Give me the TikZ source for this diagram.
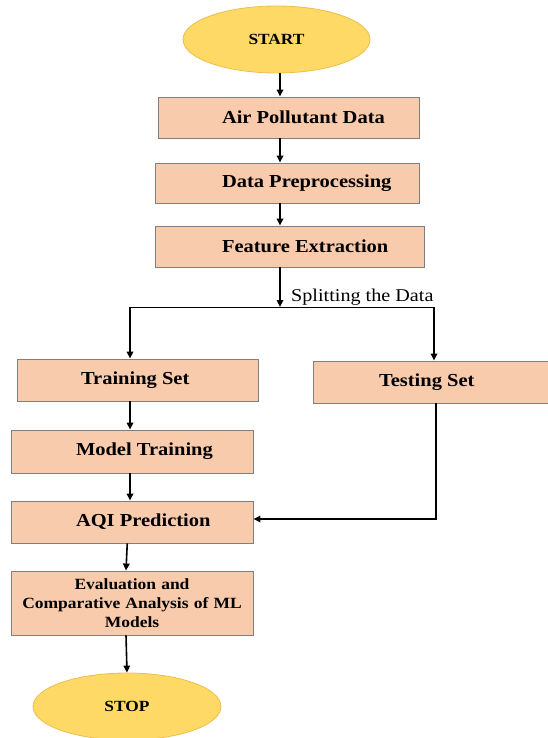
\documentclass[tikz,border=0pt]{standalone}
\usepackage{fontspec}
\setmainfont{Liberation Serif}[FakeStretch=1.12]
\usetikzlibrary{shapes.geometric,arrows.meta}
\definecolor{peach}{HTML}{F8CBAD}
\definecolor{boxline}{HTML}{7F7F7F}
\definecolor{gold}{HTML}{FFD966}
\definecolor{goldline}{HTML}{EDBE4E}
\newcommand\bt[3]{\makebox[#1pt][l]{\hspace{#2pt}#3}}
\begin{document}
\begin{tikzpicture}[x=1pt,y=-1pt,
  procbox/.style={draw=boxline,fill=peach,line width=0.9pt,inner xsep=0pt,inner ysep=0pt,
    font=\fontsize{18.3}{21}\selectfont\bfseries},
  term/.style={ellipse,draw=goldline,fill=gold,line width=0.8pt,inner sep=0pt,
    font=\fontsize{15.5}{18}\selectfont\bfseries},
  arr/.style={line width=1.6pt,-{Triangle[length=7pt,width=6.5pt]}},
  conn/.style={line width=1.6pt}]
\useasboundingbox (0,0) rectangle (547,738);
% terminals
\node[term,minimum width=187pt,minimum height=67pt] (start) at (276.5,39.5) {START};
\node[term,minimum width=188pt,minimum height=67pt] (stop) at (127,706.5) {STOP};
% process boxes
\node[procbox,minimum width=261pt,minimum height=41pt] (apd) at (288.5,117.5) {\bt{261}{64}{Air Pollutant Data}};
\node[procbox,minimum width=264pt,minimum height=40pt] (dp) at (287,183) {\bt{264}{67}{Data Preprocessing}};
\node[procbox,minimum width=269pt,minimum height=41pt] (fe) at (289.5,246.5) {\bt{269}{67}{Feature Extraction}};
\node[procbox,minimum width=241pt,minimum height=42pt] (train) at (137.5,380) {\bt{241}{64}{Training Set}};
\node[procbox,minimum width=242pt,minimum height=42pt] (test) at (434,382) {\bt{242}{66}{Testing Set}};
\node[procbox,minimum width=241.5pt,minimum height=43pt] (mt) at (132.25,451.5) {\bt{241.5}{64.5}{Model Training}};
\node[procbox,minimum width=241.5pt,minimum height=42pt] (aqi) at (132.25,522) {\bt{241.5}{64.5}{AQI Prediction}};
\node[procbox,minimum width=242pt,minimum height=64pt,text width=242pt,align=center,
  font=\fontsize{15.6}{19}\selectfont\bfseries] (ev) at (132,603)
  {Evaluation and\\Comparative Analysis of ML\\Models};
% split label
\node[anchor=base west,inner sep=0pt,font=\fontsize{18}{21}\selectfont] (lbl) at (291,301) {Splitting the Data};
% junction coordinates
\coordinate (sm) at (280,307);
\coordinate (sl) at (130,307);
\coordinate (sr) at (434,307);
\coordinate (tc) at (436,519);
% connectors
\draw[arr] (start.south -| sm) -- (apd.north -| sm);
\draw[arr] (apd.south -| sm) -- (dp.north -| sm);
\draw[arr] (dp.south -| sm) -- (fe.north -| sm);
\draw[arr] (fe.south -| sm) -- (sm);
\draw[line width=0.9pt] (sl) -- (sr);
\draw[arr] (sl) -- (sl |- train.north);
\draw[arr] (sr) -- (sr |- test.north);
\draw[arr] (train.south -| sl) -- (mt.north -| sl);
\draw[arr] (mt.south -| sl) -- (aqi.north -| sl);
\draw[arr] (tc |- test.south) |- (aqi.east |- tc);
\draw[arr] ([xshift=-5pt]aqi.south) -- ([xshift=-6pt]ev.north);
\draw[arr] ([xshift=-6pt]ev.south) -- (stop.north);
\end{tikzpicture}
\end{document}
